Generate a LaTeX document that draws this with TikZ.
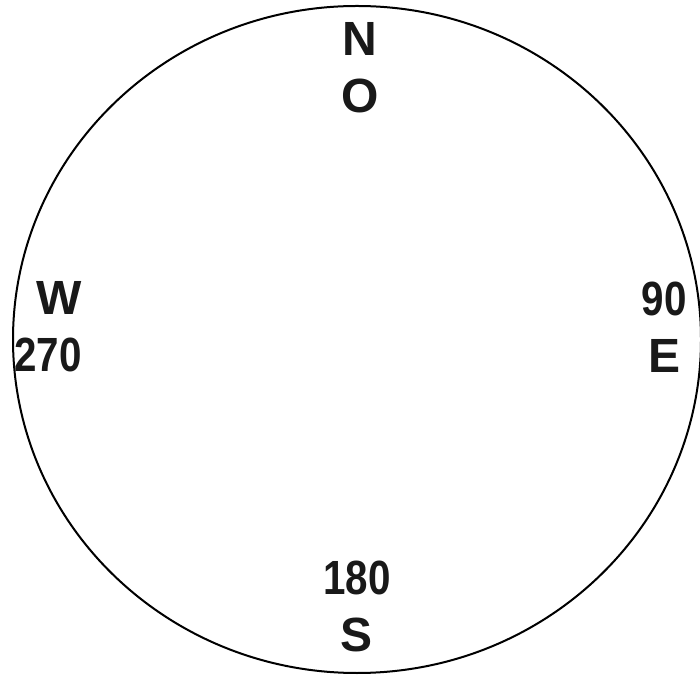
\documentclass[tikz,border=0pt]{standalone}
\usepackage{fontspec}
\setmainfont{Liberation Sans}
\newfontfamily\numfont[FakeStretch=0.84]{Liberation Sans}
\usetikzlibrary{positioning}
\tikzset{
  dial/.style={draw=black, line width=2pt},
  heading/.style={font=\fontsize{48}{57}\selectfont\bfseries, text=black!90, inner sep=0pt, align=center}
}
\begin{document}
\begin{tikzpicture}[x=1pt, y=1pt]
  \useasboundingbox (0,0) rectangle (700,674);
  \coordinate (centre) at (357,334.5);
  \draw[dial] (centre) ellipse [x radius=344, y radius=333.5];
  \node[heading] (north) at (360,606) {N\\O};
  \node[heading, align=right, anchor=east] (west) at (82,347) {W\\{\numfont 270}};
  \node[heading] (east) at (664,347) {{\numfont 90}\\E};
  \node[heading] (south) at (357,68) {{\numfont 180}\\S};
\end{tikzpicture}
\end{document}
